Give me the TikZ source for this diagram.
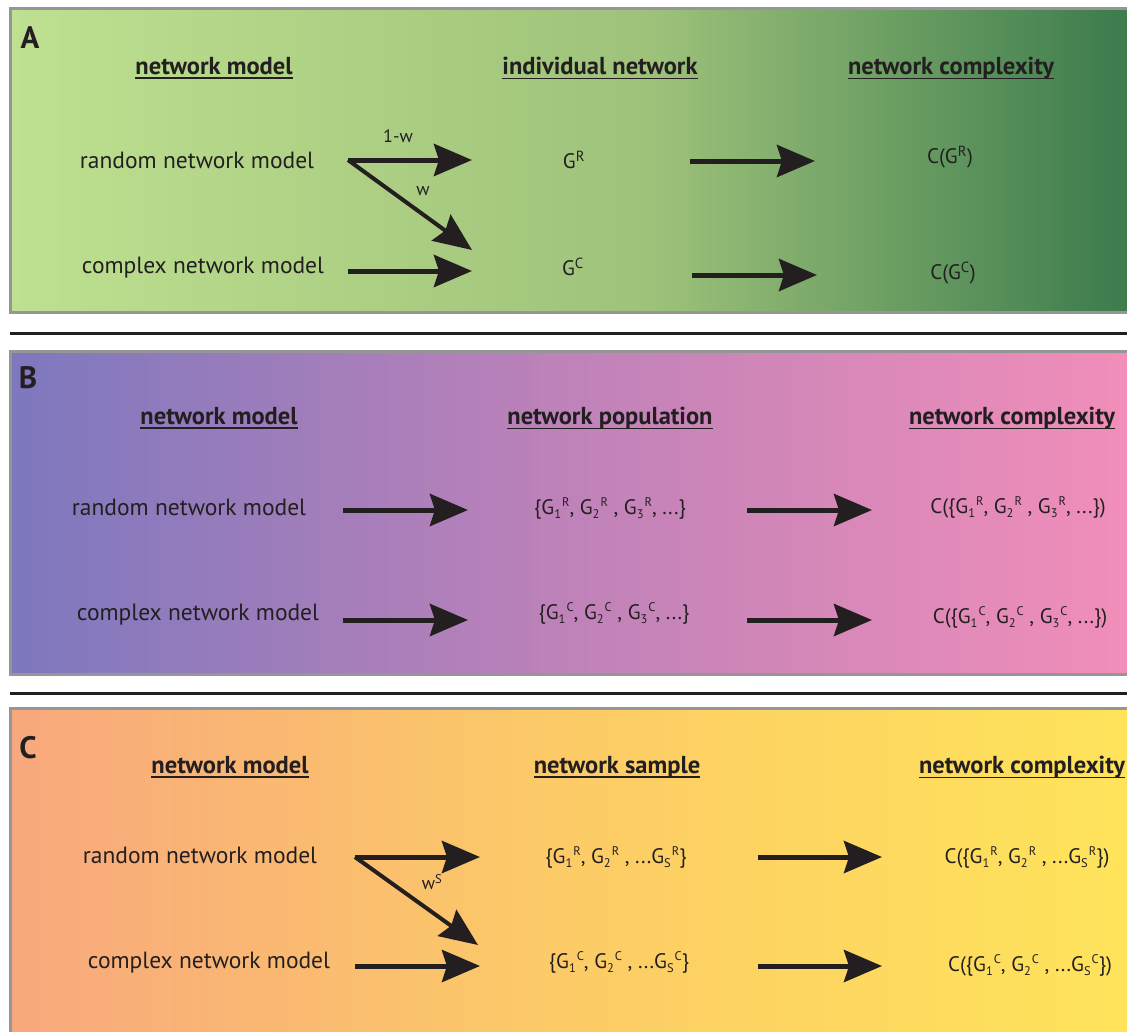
\documentclass[tikz,border=0pt]{standalone}
\usepackage{fontspec}
\setmainfont{PT Sans}
\usetikzlibrary{arrows.meta}

\definecolor{txt}{RGB}{35,31,32}
\definecolor{frame}{RGB}{150,150,150}
\definecolor{gA1}{RGB}{190,224,144}
\definecolor{gA2}{RGB}{158,194,122}
\definecolor{gA3}{RGB}{58,122,76}
\definecolor{gB1}{RGB}{125,120,190}
\definecolor{gB2}{RGB}{190,130,185}
\definecolor{gB3}{RGB}{242,142,185}
\definecolor{gC1}{RGB}{248,168,125}
\definecolor{gC2}{RGB}{252,204,102}
\definecolor{gC3}{RGB}{255,228,90}

% underlined header text
\newcommand{\hdtext}[1]{\setbox0\hbox{#1}\rlap{\rule[-5pt]{\wd0}{1.7pt}}\box0}
% G with index and type
\newcommand{\gsub}[2]{G\raisebox{-4.5pt}{\fontsize{12.5}{13}\selectfont #1}\kern1pt\raisebox{8pt}{\fontsize{12.5}{13}\selectfont #2}}

\begin{document}
\begin{tikzpicture}[x=1pt,y=-1pt,
    every node/.style={font=\fontsize{21}{25}\selectfont, text=txt},
    mdl/.style={font=\fontsize{23.5}{27}\selectfont},
    hdr/.style={font=\fontsize{24.5}{28}\selectfont\bfseries},
    lbl/.style={font=\fontsize{31}{34}\selectfont\bfseries},
    sml/.style={font=\fontsize{18}{21}\selectfont},
    bigarrow/.style={draw=txt, line width=5pt, -{Stealth[length=38pt,width=32pt,inset=5pt]}},
    panel/.style={draw=frame, line width=3pt},
    sep/.style={draw=txt, line width=3pt}]

  \clip (0,0) rectangle (1127,1031);

  % ---------- panel A
  \shade[left color=gA1, right color=gA2] (10,8) rectangle (651,312);
  \shade[left color=gA2, right color=gA3] (650,8) rectangle (1135,312);
  \draw[panel] (10,8) rectangle (1135,312);

  \node (labA) at (30,38) [lbl] {A};
  \node (modA) at (214,68) [hdr] {\hdtext{network model}};
  \node (indA) at (600,68) [hdr] {\hdtext{individual network}};
  \node (cmpA) at (951,68) [hdr] {\hdtext{network complexity}};

  \node (rndA) at (197,160) [mdl] {random network model};
  \node (cpxA) at (203,268) [mdl] {complex network model};
  \node (grA)  at (574,160) {G\textsuperscript{R}};
  \node (gcA)  at (573,267) {G\textsuperscript{C}};
  \node (cgrA) at (950,157) {C(G\textsuperscript{R})};
  \node (cgcA) at (953,273) {C(G\textsuperscript{C})};

  \coordinate (a1) at (348,160);
  \coordinate (a2) at (472,160);
  \coordinate (a3) at (472,250);
  \coordinate (a4) at (348,271);
  \coordinate (a5) at (472,271);
  \coordinate (a6) at (690,161);
  \coordinate (a7) at (815,161);
  \coordinate (a8) at (692,275);
  \coordinate (a9) at (817,275);

  \draw[bigarrow] (a1) -- (a2);
  \draw[bigarrow, line width=4pt] (a1) -- (a3);
  \draw[bigarrow] (a4) -- (a5);
  \draw[bigarrow] (a6) -- (a7);
  \draw[bigarrow] (a8) -- (a9);
  \node (pA) at (398,136) [sml] {1-w};
  \node (qA) at (423,191) [sml] {w};

  \draw[sep] (10,333) -- (1135,333);

  % ---------- panel B
  \shade[left color=gB1, right color=gB2] (10,351) rectangle (561,674);
  \shade[left color=gB2, right color=gB3] (560,351) rectangle (1135,674);
  \draw[panel] (10,351) rectangle (1135,674);

  \node (labB) at (28,378) [lbl] {B};
  \node (modB) at (219,418) [hdr] {\hdtext{network model}};
  \node (popB) at (610,418) [hdr] {\hdtext{network population}};
  \node (cmpB) at (1012,418) [hdr] {\hdtext{network complexity}};

  \node (rndB) at (189,507) [mdl] {random network model};
  \node (cpxB) at (198,615) [mdl] {complex network model};
  \node (grB)  at (610,508) {\{\gsub{1}{R}, \gsub{2}{R} , \gsub{3}{R}, ...\}};
  \node (gcB)  at (614,613) {\{\gsub{1}{C}, \gsub{2}{C} , \gsub{3}{C}, ...\}};
  \node (cgrB) at (1018,507) {C(\{\gsub{1}{R}, \gsub{2}{R} , \gsub{3}{R}, ...\})};
  \node (cgcB) at (1020,617) {C(\{\gsub{1}{C}, \gsub{2}{C} , \gsub{3}{C}, ...\})};

  \coordinate (b1) at (343,510);
  \coordinate (b2) at (468,510);
  \coordinate (b3) at (343,620);
  \coordinate (b4) at (468,620);
  \coordinate (b5) at (747,510);
  \coordinate (b6) at (872,510);
  \coordinate (b7) at (747,620);
  \coordinate (b8) at (872,620);

  \draw[bigarrow] (b1) -- (b2);
  \draw[bigarrow] (b3) -- (b4);
  \draw[bigarrow] (b5) -- (b6);
  \draw[bigarrow] (b7) -- (b8);

  \draw[sep] (10,693) -- (1135,693);

  % ---------- panel C
  \shade[left color=gC1, right color=gC2] (10,708) rectangle (581,1040);
  \shade[left color=gC2, right color=gC3] (580,708) rectangle (1135,1040);
  \draw[panel] (10,708) rectangle (1135,1040);

  \node (labC) at (28,748) [lbl] {C};
  \node (modC) at (230,767) [hdr] {\hdtext{network model}};
  \node (smpC) at (617,767) [hdr] {\hdtext{network sample}};
  \node (cmpC) at (1022,767) [hdr] {\hdtext{network complexity}};

  \node (rndC) at (200,855) [mdl] {random network model};
  \node (cpxC) at (209,963) [mdl] {complex network model};
  \node (grC)  at (616,857) {\{\gsub{1}{R}, \gsub{2}{R} , ...\gsub{S}{R}\}};
  \node (gcC)  at (619,962) {\{\gsub{1}{C}, \gsub{2}{C} , ...\gsub{S}{C}\}};
  \node (cgrC) at (1027,857) {C(\{\gsub{1}{R}, \gsub{2}{R} , ...\gsub{S}{R}\})};
  \node (cgcC) at (1030,965) {C(\{\gsub{1}{C}, \gsub{2}{C} , ...\gsub{S}{C}\})};

  \coordinate (c1) at (355,857);
  \coordinate (c2) at (480,857);
  \coordinate (c3) at (478,945);
  \coordinate (c4) at (355,966);
  \coordinate (c5) at (480,966);
  \coordinate (c6) at (758,857);
  \coordinate (c7) at (882,857);
  \coordinate (c8) at (758,966);
  \coordinate (c9) at (882,966);

  \draw[bigarrow] (c1) -- (c2);
  \draw[bigarrow, line width=4pt] (c1) -- (c3);
  \draw[bigarrow] (c4) -- (c5);
  \draw[bigarrow] (c6) -- (c7);
  \draw[bigarrow] (c8) -- (c9);
  \node (qC) at (432,882) [sml] {w\textsuperscript{S}};

\end{tikzpicture}
\end{document}
